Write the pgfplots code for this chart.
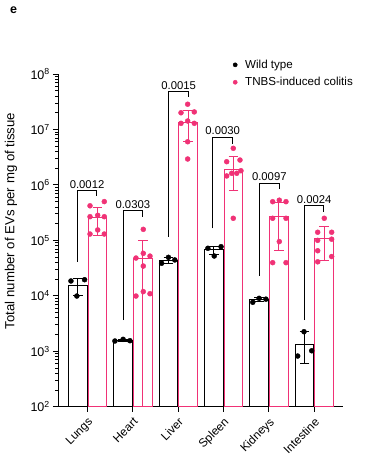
\documentclass[border=0pt]{standalone}
\usepackage{pgfplots}
\pgfplotsset{compat=1.18}
\usepackage{fontspec}
\setmainfont{Liberation Sans}
\definecolor{pk}{RGB}{240,50,118}
\newcommand\tf{\fontsize{11.3}{13}\selectfont}
\begin{document}
\begin{tikzpicture}
\begin{axis}[
  scale only axis, width=285pt, height=332.7pt,
  ymode=log, log origin=infty,
  ymin=1e2, ymax=1e8, xmin=-0.646, xmax=5.64,
  axis x line*=bottom, axis y line*=left,
  axis line style={line width=0.8pt,-},
  tick align=outside, major tick length=5pt,
  tick style={black, line width=0.8pt},
  ytick={1e2,1e3,1e4,1e5,1e6,1e7,1e8},
  yticklabels={10\textsuperscript{2},10\textsuperscript{3},10\textsuperscript{4},10\textsuperscript{5},10\textsuperscript{6},10\textsuperscript{7},10\textsuperscript{8}},
  minor ytick={}, 
  xtick={0,1,2,3,4,5},
  xticklabels={Lungs,Heart,Liver,Spleen,Kidneys,Intestine},
  xticklabel style={rotate=45, anchor=north east, font=\fontsize{11.8}{13}\selectfont, inner sep=3.5pt},
  yticklabel style={font=\fontsize{12.5}{14}\selectfont, inner sep=3pt},
  clip=false,
  legend style={at={(0.613,1.049)}, anchor=north west, draw=none, fill=none, font=\fontsize{11.6}{13}\selectfont, row sep=3.5pt, inner sep=0pt},
  legend cell align=left,
]
% bars
\addplot[ybar, bar width=0.41, bar shift=0pt, draw=black, fill=white, line width=1pt, forget plot,
  error bars/.cd, y dir=both, y explicit,
  error bar style={black, line width=1pt},
  error mark options={black, rotate=90, mark size=4.8pt, line width=1pt}]
coordinates {
 (-0.21,15300) += (0,5100) -= (0,5100)
 (0.79,1590) += (0,60) -= (0,60)
 (1.79,44000) += (0,5300) -= (0,5300)
 (2.79,67000) += (0,12000) -= (0,12000)
 (3.79,8500) += (0,700) -= (0,700)
 (4.79,1310) += (0,940) -= (0,714)
};
\addplot[ybar, bar width=0.41, bar shift=0pt, draw=pk, fill=white, line width=1pt, forget plot,
  error bars/.cd, y dir=both, y explicit,
  error bar style={pk, line width=1pt},
  error mark options={pk, rotate=90, mark size=4.8pt, line width=1pt}]
coordinates {
 (0.225,260000) += (0,137000) -= (0,137000)
 (1.225,47400) += (0,50600) -= (0,47300)
 (2.225,1.36e7) += (0,8.6e6) -= (0,7.6e6)
 (3.225,1.9e6) += (0,1.33e6) -= (0,1.12e6)
 (4.225,2.67e5) += (0,2.18e5) -= (0,2.02e5)
 (5.225,1.09e5) += (0,7.1e4) -= (0,6.5e4)
};
% dots
\addplot[only marks, mark=*, mark size=2.5pt, black, forget plot] coordinates {
 (-0.36,18500) (-0.06,19500) (-0.23,9900)
 (0.61,1530) (0.79,1640) (0.94,1550)
 (1.64,38600) (1.79,49400) (1.93,44300)
 (2.66,72000) (2.95,76800) (2.80,52200)
 (3.65,7640) (3.79,9000) (3.94,8700)
 (4.78,2250) (4.64,820) (4.95,1020)
};
\addplot[only marks, mark=*, mark size=2.5pt, pk, forget plot] coordinates {
 (0.06,420000) (0.375,500000) (0.06,267000) (0.23,283000) (0.375,267000) (0.06,130000) (0.23,154000) (0.375,130000)
 (1.235,158000) (1.235,58300) (1.074,48000) (1.383,52000) (1.235,34400) (1.074,9900) (1.235,11900) (1.383,10900)
 (2.214,2.85e7) (2.067,2.0e7) (2.36,2.07e7) (2.067,1.29e7) (2.214,1.42e7) (2.36,1.29e7) (2.214,6.0e6) (2.214,2.93e6)
 (3.22,4.57e6) (3.075,2.62e6) (3.368,2.81e6) (3.075,1.45e6) (3.185,1.62e6) (3.296,1.62e6) (3.39,1.8e6) (3.22,2.5e5)
 (4.089,4.98e5) (4.235,5.3e5) (4.383,4.98e5) (4.089,2.5e5) (4.383,2.5e5) (4.235,9.5e4) (4.089,3.96e4) (4.383,3.96e4)
 (5.227,2.5e5) (5.082,1.4e5) (5.39,1.4e5) (5.082,1.0e5) (5.39,1.05e5) (5.082,6.5e4) (5.39,5.1e4) (5.082,4.1e4)
};
\addlegendimage{legend image code/.code={\fill[black] (0.08cm,0cm) circle (2.1pt); \path[draw=none,fill=none] (0cm,0cm) rectangle (0.36cm,0cm);}}
\addlegendentry{Wild type}
\addlegendimage{legend image code/.code={\fill[pk] (0.08cm,0cm) circle (2.1pt); \path[draw=none,fill=none] (0cm,0cm) rectangle (0.36cm,0cm);}}
\addlegendentry{TNBS-induced colitis}
% significance brackets
\draw[line width=1pt] (axis cs:-0.21,4.12e4) |- (axis cs:0.2,7.85e5) node[pos=0.75, above, inner sep=2pt, font=\tf] {0.0012} -- (axis cs:0.2,6.3e5);
\draw[line width=1pt] (axis cs:0.79,3.66e3) |- (axis cs:1.22,3.43e5) node[pos=0.75, above, inner sep=2pt, font=\tf] {0.0303} -- (axis cs:1.22,2.67e5);
\draw[line width=1pt] (axis cs:1.79,1.16e5) |- (axis cs:2.24,4.8e7) node[pos=0.75, above, inner sep=2pt, font=\tf] {0.0015} -- (axis cs:2.24,3.9e7);
\draw[line width=1pt] (axis cs:2.77,1.65e5) |- (axis cs:3.2,7.2e6) node[pos=0.75, above, inner sep=2pt, font=\tf] {0.0030} -- (axis cs:3.2,5.47e6);
\draw[line width=1pt] (axis cs:3.80,2.28e4) |- (axis cs:4.23,1.07e6) node[pos=0.75, above, inner sep=2pt, font=\tf] {0.0097} -- (axis cs:4.23,8.34e5);
\draw[line width=1pt] (axis cs:4.79,3.66e3) |- (axis cs:5.22,4.22e5) node[pos=0.75, above, inner sep=2pt, font=\tf] {0.0024} -- (axis cs:5.22,3.29e5);
\end{axis}
\node[rotate=90, font=\fontsize{13.2}{15}\selectfont] at ([shift={(-47pt,185.7pt)}]current axis.south west) {Total number of EVs per mg of tissue};
\node[font=\fontsize{12.5}{14}\selectfont\bfseries] at ([shift={(-44.5pt,396.7pt)}]current axis.south west) {e};
\pgfresetboundingbox
\path[use as bounding box] ([shift={(-58pt,-54.3pt)}]current axis.south west) rectangle ++(365pt,461pt);
\end{tikzpicture}
\end{document}
